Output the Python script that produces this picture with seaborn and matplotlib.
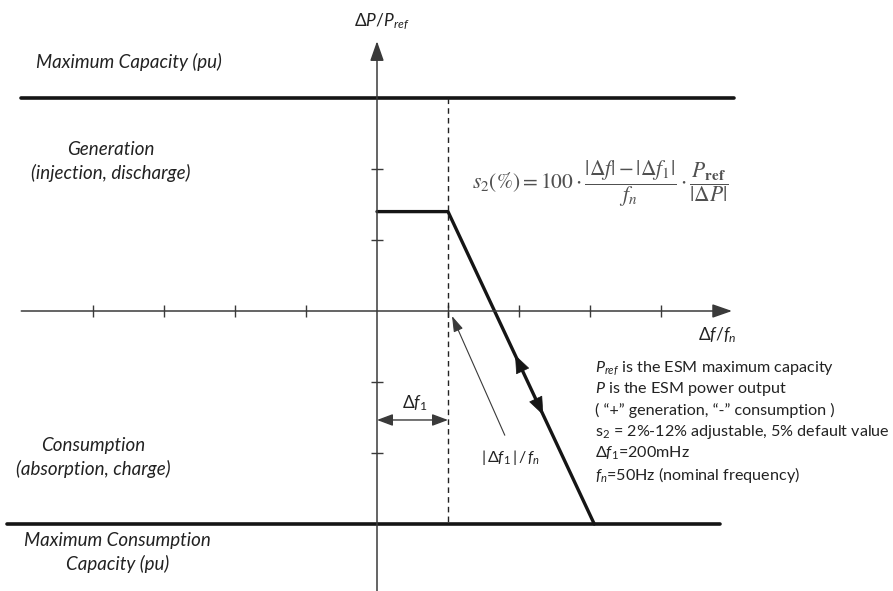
import numpy as np
import pandas as pd
import seaborn as sns
import matplotlib.pyplot as plt

# ---------------- data (in axis tick units) ----------------
freq_response = [0.0, 1.0, 3.06]          # Δf/fn
power_response = [1.4, 1.4, -3.0]         # ΔP/Pref
max_capacity = 3.0
max_consumption = -3.0
capacity_span = [-5.01, 5.03]
consumption_span = [-5.21, 4.83]
deadband = 1.0
x_ticks = [-4, -3, -2, -1, 1, 2, 3, 4]
y_ticks = [-2, -1, 1, 2]

note_lines = [
    r"$P_{ref}$ is the ESM maximum capacity",
    r"$P$ is the ESM power output",
    "( \u201c+\u201d generation, \u201c-\u201d consumption )",
    r"s$_\mathrm{2}$ = 2%-12% adjustable, 5% default value",
    r"$\mathit{\Delta} f_{\mathit{1}}$=200mHz",
    r"$f_n$=50Hz (nominal frequency)",
]

# ---------------- style ----------------
sns.set_theme(style="white")
plt.rcParams["font.family"] = ["Lato", "DejaVu Sans"]
plt.rcParams["mathtext.fontset"] = "custom"
plt.rcParams["mathtext.it"] = "Lato:italic"
plt.rcParams["mathtext.rm"] = "Lato"
plt.rcParams["mathtext.bf"] = "Lato:bold"

fig = plt.figure(figsize=(8.93, 5.91), dpi=100)
ax = fig.add_axes([0, 0, 1, 1])
ax.set_xlim(-377 / 71, 516 / 71)
ax.set_ylim(-280 / 71, 311 / 71)
ax.axis("off")

axis_col = "#3a3a3a"
line_col = "#151515"

# axes with arrows
ax.annotate("", xy=(5.0, 0), xytext=(-5.01, 0),
            arrowprops=dict(arrowstyle="-|>,head_length=1.0,head_width=0.35",
                            color=axis_col, lw=1.1, shrinkA=0, shrinkB=0,
                            mutation_scale=12))
ax.annotate("", xy=(0, 3.80), xytext=(0, -3.95),
            arrowprops=dict(arrowstyle="-|>,head_length=1.0,head_width=0.35",
                            color=axis_col, lw=1.1, shrinkA=0, shrinkB=0,
                            mutation_scale=12))

# ticks
ax.plot(x_ticks, np.zeros(len(x_ticks)), ls="none", marker="|", ms=8,
        mew=1.0, color=axis_col)
ax.plot(np.zeros(len(y_ticks)), y_ticks, ls="none", marker="_", ms=8,
        mew=1.0, color=axis_col)

# capacity limits
cap_df = pd.DataFrame({"x": capacity_span, "y": [max_capacity] * 2})
con_df = pd.DataFrame({"x": consumption_span, "y": [max_consumption] * 2})
sns.lineplot(data=cap_df, x="x", y="y", ax=ax, color=line_col, lw=2.6,
             estimator=None, sort=False)
sns.lineplot(data=con_df, x="x", y="y", ax=ax, color=line_col, lw=2.6,
             estimator=None, sort=False)

# droop response
resp_df = pd.DataFrame({"f": freq_response, "p": power_response})
sns.lineplot(data=resp_df, x="f", y="p", ax=ax, color=line_col, lw=2.4,
             estimator=None, sort=False)

# dead-band dashed line
ax.plot([deadband, deadband], [max_capacity, max_consumption],
        ls=(0, (4, 3)), lw=1.0, color="#222222")

# arrowheads on the droop line
p1 = np.array([freq_response[1], power_response[1]])
p2 = np.array([freq_response[2], power_response[2]])
d = (p2 - p1) / np.linalg.norm(p2 - p1)
for t, sgn in [(0.459, -1), (0.651, 1)]:
    pt = p1 + t * (p2 - p1)
    ax.annotate("", xy=pt, xytext=pt - sgn * d * 0.05,
                arrowprops=dict(arrowstyle="-|>,head_length=1.0,head_width=0.4",
                                color=line_col, lw=0.5, shrinkA=0, shrinkB=0,
                                mutation_scale=12))

# Δf1 double arrow
ax.annotate("", xy=(0, -1.535), xytext=(deadband, -1.535),
            arrowprops=dict(arrowstyle="<|-|>,head_length=0.8,head_width=0.3",
                            color=axis_col, lw=1.0, shrinkA=0, shrinkB=0,
                            mutation_scale=12))
# thin pointer arrow
ax.annotate("", xy=(1.056, -0.07), xytext=(1.80, -1.75),
            arrowprops=dict(arrowstyle="-|>,head_length=0.8,head_width=0.25",
                            color=axis_col, lw=0.8, shrinkA=0, shrinkB=0,
                            mutation_scale=12))

# ---------------- texts ----------------
fs = 13.5
tcol = "#222222"
ax.text(0.07, 4.07, r"$\mathit{\Delta} P/P_{ref}$", ha="center", va="center",
        fontsize=12.5, color=tcol)
ax.text(-4.80, 3.507, "Maximum Capacity (pu)", ha="left", va="center",
        fontsize=fs, style="italic", color=tcol)
ax.text(-3.746, 2.106, "Generation\n(injection, discharge)", ha="center",
        va="center", fontsize=fs, style="italic", color=tcol, linespacing=1.35)
ax.text(-4.0, -2.063, "Consumption\n(absorption, charge)", ha="center",
        va="center", fontsize=fs, style="italic", color=tcol, linespacing=1.35)
ax.text(-3.66, -3.40, "Maximum Consumption\nCapacity (pu)", ha="center",
        va="center", fontsize=fs, style="italic", color=tcol, linespacing=1.35)
ax.text(4.79, -0.338, r"$\mathit{\Delta} f/f_n$", ha="center", va="center",
        fontsize=12.5, color=tcol)
ax.text(0.535, -1.296, r"$\mathit{\Delta} f_{\mathit{1}}$", ha="center",
        va="center", fontsize=12.5, color=tcol)
ax.text(1.873, -2.07, r"$|\,\mathit{\Delta} f_{\mathit{1}}\,|\,/\,f_n$",
        ha="center", va="center", fontsize=11.5, color=tcol)

ax.text(1.338, 1.80,
        r"$s_2(\%) = 100\cdot\dfrac{|\mathit{\Delta} f| - |\mathit{\Delta} f_1|}{f_n}"
        r"\cdot\dfrac{P_{\mathbf{ref}}}{|\mathit{\Delta} P|}$",
        ha="left", va="center", fontsize=15.5, color="#505050",
        math_fontfamily="stix")

for i, line in enumerate(note_lines):
    ax.text(3.07, -0.803 - i * 0.302, line, ha="left", va="center",
            fontsize=11.6, color=tcol)

fig.savefig("out.png", dpi=100)
